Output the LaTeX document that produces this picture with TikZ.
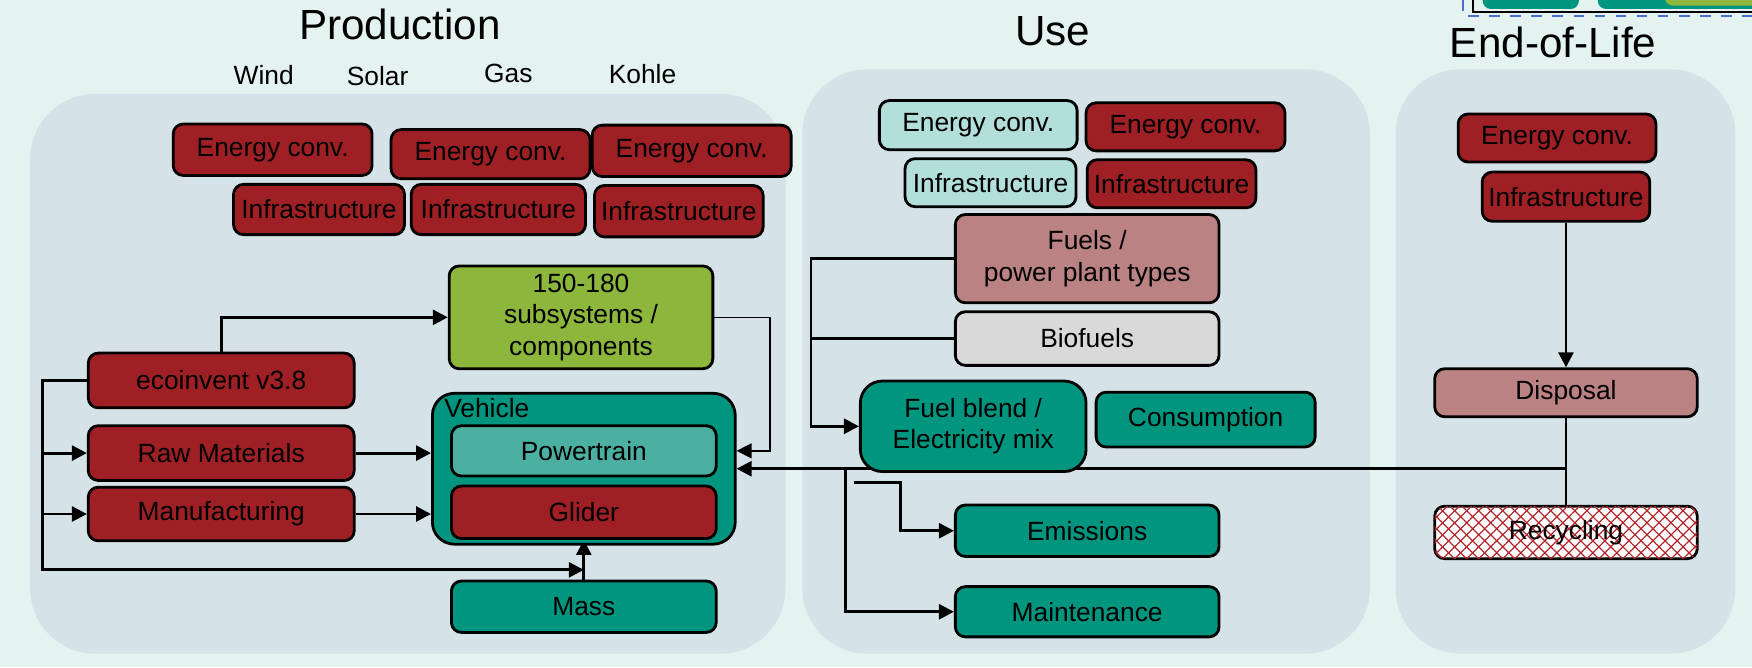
\documentclass[tikz,border=0pt]{standalone}
\usepackage{fontspec}
\setmainfont{Liberation Sans}
\usepackage{tikz}
\usetikzlibrary{arrows.meta, patterns.meta}

\definecolor{mintbg}{HTML}{E4F3F0}
\definecolor{panelblue}{HTML}{D5E3E8}
\definecolor{darkred}{HTML}{9E2024}
\definecolor{rose}{HTML}{BB8284}
\definecolor{vtteal}{HTML}{00957F}
\definecolor{lightteal}{HTML}{B2DFDA}
\definecolor{ptteal}{HTML}{4BAFA1}
\definecolor{subgreen}{HTML}{8CB63C}
\definecolor{biogray}{HTML}{D9D9D9}
\definecolor{hatchred}{HTML}{B3262B}
\definecolor{fragblue}{HTML}{4A6FD0}

\newcommand{\pxu}{0.11173mm}

\pgfdeclarelayer{panels}
\pgfdeclarelayer{wires}
\pgfsetlayers{panels,wires,main}

\tikzset{
  sz/.style 2 args={minimum width=#1*\pxu, minimum height=#2*\pxu},
  box/.style={draw=black, line width=0.8pt, rounded corners=1mm, inner sep=0pt,
    align=center, font=\fontsize{7.5}{8.9}\selectfont},
  redbox/.style={box, fill=darkred},
  rosebox/.style={box, fill=rose},
  tealbox/.style={box, fill=vtteal},
  ltbox/.style={box, fill=lightteal},
  ptbox/.style={box, fill=ptteal},
  greenbox/.style={box, fill=subgreen},
  graybox/.style={box, fill=biogray},
  hatchbox/.style={box, fill=white,
    postaction={pattern={Lines[angle=45,distance=0.85mm,line width=0.35pt]}, pattern color=hatchred},
    postaction={pattern={Lines[angle=-45,distance=0.85mm,line width=0.35pt]}, pattern color=hatchred}},
  panel/.style={fill=panelblue, rounded corners=6.5mm},
  title/.style={font=\fontsize{12}{14}\selectfont},
  lbl/.style={font=\fontsize{7.5}{8.9}\selectfont, inner sep=0pt},
  arr/.style={line width=0.8pt, -{Triangle[length=1.5mm,width=1.5mm]}},
  thinarr/.style={line width=0.4pt, -{Triangle[length=1.5mm,width=1.5mm]}},
}

\begin{document}
\begin{tikzpicture}[x=0.11173mm, y=-0.11173mm]
        \useasboundingbox (0,0) rectangle (1568,597);

        \begin{pgfonlayer}{panels}
        \fill[mintbg] (0,0) rectangle (1568,597);
        \fill[panel] (27,84) rectangle (703,585);
        \fill[panel] (718,62) rectangle (1226,585);
        \fill[panel] (1249,62) rectangle (1553,585);
        \end{pgfonlayer}

        \begin{scope}
        \clip (1250,0) rectangle (1568,40);
        \draw[fragblue, dashed, line width=0.5pt] (1309,0) -- (1309,14) -- (1568,14);
        \draw[line width=0.6pt] (1318,0) -- (1318,11) -- (1568,11);
        \fill[vtteal, rounded corners=0.8mm] (1327,-8) rectangle (1413,8);
        \fill[vtteal, rounded corners=0.8mm] (1430,-8) rectangle (1580,8);
        \fill[subgreen, rounded corners=0.8mm] (1490,-8) rectangle (1580,5);
        \end{scope}

        \node[title] (tprod) at (358,22) {Production};
        \node[title] (tuse) at (942,28) {Use};
        \node[title] (teol) at (1390,38) {End-of-Life};

        \node[lbl] (lwind) at (236,67) {Wind};
        \node[lbl] (lsolar) at (338,68) {Solar};
        \node[lbl] (lgas) at (455,66) {Gas};
        \node[lbl] (lkohle) at (575,66) {Kohle};

        \node[redbox, sz={178}{46}] (ecwind) at (244,134) {Energy conv.};
        \node[redbox, sz={178}{44}] (ecsolar) at (439,138) {Energy conv.};
        \node[redbox, sz={178}{46}] (eckohle) at (619,135) {Energy conv.};
        \node[redbox, sz={153}{45}] (infwind) at (285.5,187.5) {Infrastructure};
        \node[redbox, sz={156}{45}] (infsolar) at (446,187.5) {Infrastructure};
        \node[redbox, sz={151}{46}] (infkohle) at (607.5,189) {Infrastructure};

        \node[greenbox, sz={236}{92}] (sub) at (520,284) {150-180\\subsystems /\\components};
        \node[redbox, sz={238}{49}] (eco) at (198,340.5) {ecoinvent v3.8};
        \node[redbox, sz={238}{49}] (raw) at (198,405.5) {Raw Materials};
        \node[redbox, sz={238}{48}] (man) at (198,460) {Manufacturing};

        \node[tealbox, rounded corners=2.2mm, sz={271}{135}] (veh) at (522.5,419.5) {};
        \node[lbl, anchor=west] (vehlbl) at (397,365) {Vehicle};
        \node[ptbox, sz={237}{45}] (pt) at (522.5,403.5) {Powertrain};
        \node[redbox, sz={237}{47}] (gl) at (522.5,458.5) {Glider};
        \node[tealbox, sz={237}{46}] (mass) at (522.5,543) {Mass};

        \node[ltbox, sz={177}{44}] (ecuse1) at (875.5,112) {Energy conv.};
        \node[redbox, sz={178}{43}] (ecuse2) at (1061,113.5) {Energy conv.};
        \node[ltbox, sz={153}{43}] (infuse1) at (886.5,163.5) {Infrastructure};
        \node[redbox, sz={151}{43}] (infuse2) at (1048.5,164.5) {Infrastructure};
        \node[rosebox, sz={236}{79}] (fuels) at (973,231.5) {Fuels /\\power plant types};
        \node[graybox, sz={236}{48}] (bio) at (973,303) {Biofuels};
        \node[tealbox, rounded corners=2.2mm, sz={202}{81}] (blend) at (871,381.5) {Fuel blend /\\Electricity mix};
        \node[tealbox, sz={196}{49}] (cons) at (1079,375.5) {Consumption};
        \node[tealbox, sz={236}{46}] (emis) at (973,475) {Emissions};
        \node[tealbox, sz={236}{45}] (maint) at (973,547.5) {Maintenance};

        \node[redbox, sz={177}{43}] (eceol) at (1393.5,123.5) {Energy conv.};
        \node[redbox, sz={150}{44}] (infeol) at (1401.5,176) {Infrastructure};
        \node[rosebox, sz={235}{43}] (disp) at (1401.5,351.5) {Disposal};
        \node[hatchbox, sz={235}{47}] (recyc) at (1401.5,476.5) {Recycling};

        \coordinate (busb) at (38,510);
        \coordinate (massj) at (522.5,510);
        \coordinate (mtap) at (757,419.5);
        \coordinate (etap) at (764,432);

        \begin{pgfonlayer}{wires}
        \draw[arr] (eco.north) |- (sub.west);
        \draw[arr] (eco.west) -| (busb) -- (massj);
        \draw[arr] (raw.west -| busb) -- (raw.west);
        \draw[arr] (man.west -| busb) -- (man.west);
        \draw[arr] (raw.east) -- (raw.east -| veh.west);
        \draw[arr] (man.east) -- (man.east -| veh.west);
        \draw[arr] (mass.north) -- (gl.south);
        \draw[thinarr] (sub.east) -- ++(50,0) |- (veh.east |- pt.center);
        \draw[arr] (disp.south) |- (veh.east);
        \draw[line width=0.4pt] (disp.south |- veh.east) -- (recyc.north);
        \draw[arr] (mtap) |- (maint.west);
        \draw[arr] (etap) -- ++(42,0) |- (emis.west);
        \draw[arr] (fuels.west) -- ++(-128,0) |- (blend.west);
        \draw[line width=0.8pt] (bio.west) -- ++(-128,0);
        \draw[arr] (infeol.south) -- (disp.north);
        \end{pgfonlayer}
    \end{tikzpicture}
\end{document}
